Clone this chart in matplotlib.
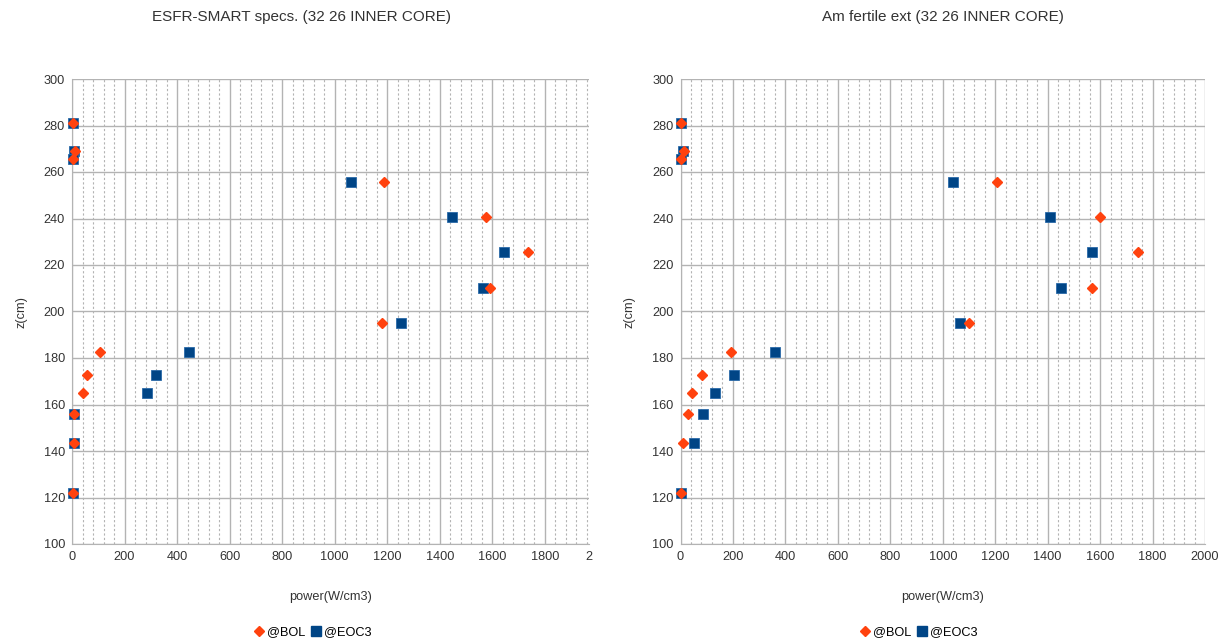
import numpy as np
import matplotlib.pyplot as plt
from matplotlib.ticker import MultipleLocator
from matplotlib.lines import Line2D

plt.rcParams['font.family'] = ['Liberation Sans', 'DejaVu Sans']

# z positions (cm), shared by all series
z = [281, 269, 265.5, 255.5, 240.5, 225.5, 210, 195, 182.5, 172.5, 165, 156, 143.5, 122]

# ESFR-SMART specs
left_bol = [3, 12, 4, 1189, 1575, 1735, 1590, 1180, 108, 56, 41, 6, 6, 2]
left_eoc3 = [2, 7, 2, 1062, 1448, 1643, 1566, 1252, 445, 320, 285, 7, 7, 2]

# Am fertile ext
right_bol = [3, 13, 3, 1208, 1599, 1746, 1571, 1099, 193, 83, 45, 27, 10, 1]
right_eoc3 = [3, 10, 3, 1038, 1410, 1570, 1452, 1066, 362, 203, 133, 86, 50, 2]

titles = ['ESFR-SMART specs. (32 26 INNER CORE)', 'Am fertile ext (32 26 INNER CORE)']

orange = '#ff420e'
blue = '#004586'
grid_c = '#b3b3b3'
fs = 9.2

fig = plt.figure(figsize=(12.29, 6.43), dpi=100)
ax1 = fig.add_axes([72 / 1229, 1 - 544 / 643, (589 - 72) / 1229, (544 - 79) / 643])
ax2 = fig.add_axes([680.5 / 1229, 1 - 544 / 643, (1205 - 680.5) / 1229, (544 - 79) / 643])

panels = [(ax1, left_bol, left_eoc3, 1968), (ax2, right_bol, right_eoc3, 2000)]

for ax, bol, eoc, xmax in panels:
    ax.plot(eoc, z, ls='none', marker='s', ms=7.8, color=blue, mec='#2a6aa8', mew=0.6,
            zorder=3, clip_on=False)
    ax.plot(bol, z, ls='none', marker='D', ms=5.6, color=orange, mec=orange,
            zorder=4, clip_on=False)
    ax.set_xlim(0, xmax)
    ax.set_ylim(100, 300)
    ax.xaxis.set_major_locator(MultipleLocator(200))
    ax.xaxis.set_minor_locator(MultipleLocator(40))
    ax.yaxis.set_major_locator(MultipleLocator(20))
    ax.grid(which='major', color=grid_c, lw=1, ls='-')
    ax.grid(which='minor', axis='x', color=grid_c, lw=0.8, ls=(0, (2, 2)))
    ax.set_axisbelow(True)
    for s in ['top', 'right']:
        ax.spines[s].set_visible(False)
    for s in ['left', 'bottom']:
        ax.spines[s].set_color(grid_c)
    ax.tick_params(which='both', length=0, labelsize=fs, colors='#333333', pad=5)
    ax.set_xlabel('power(W/cm3)', fontsize=fs, color='#333333', labelpad=20)
    ax.set_ylabel('z(cm)', fontsize=fs, color='#333333', labelpad=12)

# clipped "2000" label on the left chart
ax1.text(1.0, -0.016, '2', transform=ax1.transAxes, ha='center', va='top',
         fontsize=fs, color='#333333')

fig.text(302 / 1229, 1 - 17 / 643, titles[0], ha='center', va='center', fontsize=11, color='#333333')
fig.text(943 / 1229, 1 - 17 / 643, titles[1], ha='center', va='center', fontsize=11, color='#333333')

handles = [Line2D([], [], ls='none', marker='D', ms=5.6, color=orange),
           Line2D([], [], ls='none', marker='s', ms=7.5, color=blue)]
for cx in [312, 918]:
    fig.legend(handles, ['@BOL', '@EOC3'], loc='center', bbox_to_anchor=(cx / 1229, 1 - 632 / 643),
               ncol=2, frameon=False, fontsize=fs, handletextpad=0.1, columnspacing=0.4,
               handlelength=1.0, borderaxespad=0)

fig.savefig('out.png', dpi=100)
